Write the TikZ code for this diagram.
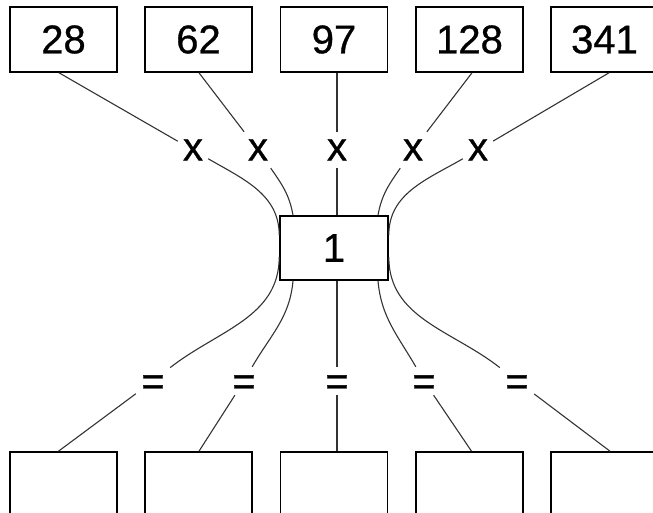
\documentclass[tikz,border=0pt]{standalone}
\usepackage{fontspec}
\setmainfont{Liberation Sans}[FakeBold=0.8]
\begin{document}
\begin{tikzpicture}[x=1pt,y=-1pt,
  big/.style={font=\fontsize{40}{40}\selectfont},
  box/.style={draw, line width=1.6pt, minimum width=107pt, minimum height=65pt, inner sep=0pt, big},
  xl/.style={inner sep=0pt, minimum width=30pt, minimum height=36pt, text height=28.4pt, text depth=7.6pt, big},
  el/.style={inner sep=0pt, minimum width=34pt, minimum height=28pt, text height=28pt, text depth=0pt, big},
  edge/.style={line width=1.1pt, draw=black!80}]
\useasboundingbox (0,0) rectangle (653,513);
% top boxes
\node[box] (t1) at (63.5,39.5) {28};
\node[box] (t2) at (198.5,39.5) {62};
\node[box] (t3) at (334,39.5) {97};
\node[box] (t4) at (469.5,39.5) {128};
\node[box] (t5) at (604.5,39.5) {341};
% centre box
\node[box, minimum width=108pt, minimum height=64pt] (c) at (334,248) {1};
% bottom boxes
\node[box] (b1) at (63.5,484.5) {};
\node[box] (b2) at (198.5,484.5) {};
\node[box] (b3) at (334,484.5) {};
\node[box] (b4) at (469.5,484.5) {};
\node[box] (b5) at (604.5,484.5) {};
% x labels
\node[xl] (x1) at (193,150) {x};
\node[xl] (x2) at (258,150) {x};
\node[xl] (x3) at (337,150) {x};
\node[xl] (x4) at (413,150) {x};
\node[xl] (x5) at (478,150) {x};
% = labels
\node[el] (e1) at (153,381) {=};
\node[el] (e2) at (244,381) {=};
\node[el] (e3) at (337,381) {=};
\node[el] (e4) at (424,381) {=};
\node[el] (e5) at (517,381) {=};
% upper edges
\draw[edge] ([xshift=-4.5pt]t1.south) -- (x1);
\draw[edge] (x1) to[out=-30,in=90] ([yshift=13pt]c.west);
\draw[edge] ([xshift=0.5pt]t2.south) -- (x2);
\draw[edge] (x2) to[out=-55,in=100] ([xshift=-41pt]c.north);
\draw[edge] ([xshift=3pt]t3.south) -- (x3);
\draw[edge] (x3) -- ([xshift=3pt]c.north);
\draw[edge] ([xshift=2.5pt]t4.south) -- (x4);
\draw[edge] (x4) to[out=-125,in=80] ([xshift=44pt]c.north);
\draw[edge] ([xshift=4.5pt]t5.south) -- (x5);
\draw[edge] (x5) to[out=-150,in=90] ([yshift=13pt]c.east);
% lower edges
\draw[edge] ([yshift=-9pt]c.west) to[out=-90,in=38] (e1);
\draw[edge] (e1) -- ([xshift=-5pt]b1.north);
\draw[edge] ([xshift=-41pt]c.south) to[out=-95,in=60] (e2);
\draw[edge] (e2) -- ([xshift=0.5pt]b2.north);
\draw[edge] ([xshift=3pt]c.south) -- (e3);
\draw[edge] (e3) -- ([xshift=3pt]b3.north);
\draw[edge] ([xshift=44pt]c.south) to[out=-85,in=120] (e4);
\draw[edge] (e4) -- ([xshift=2pt]b4.north);
\draw[edge] ([yshift=-9pt]c.east) to[out=-90,in=142] (e5);
\draw[edge] (e5) -- ([xshift=5.5pt]b5.north);
\end{tikzpicture}
\end{document}
